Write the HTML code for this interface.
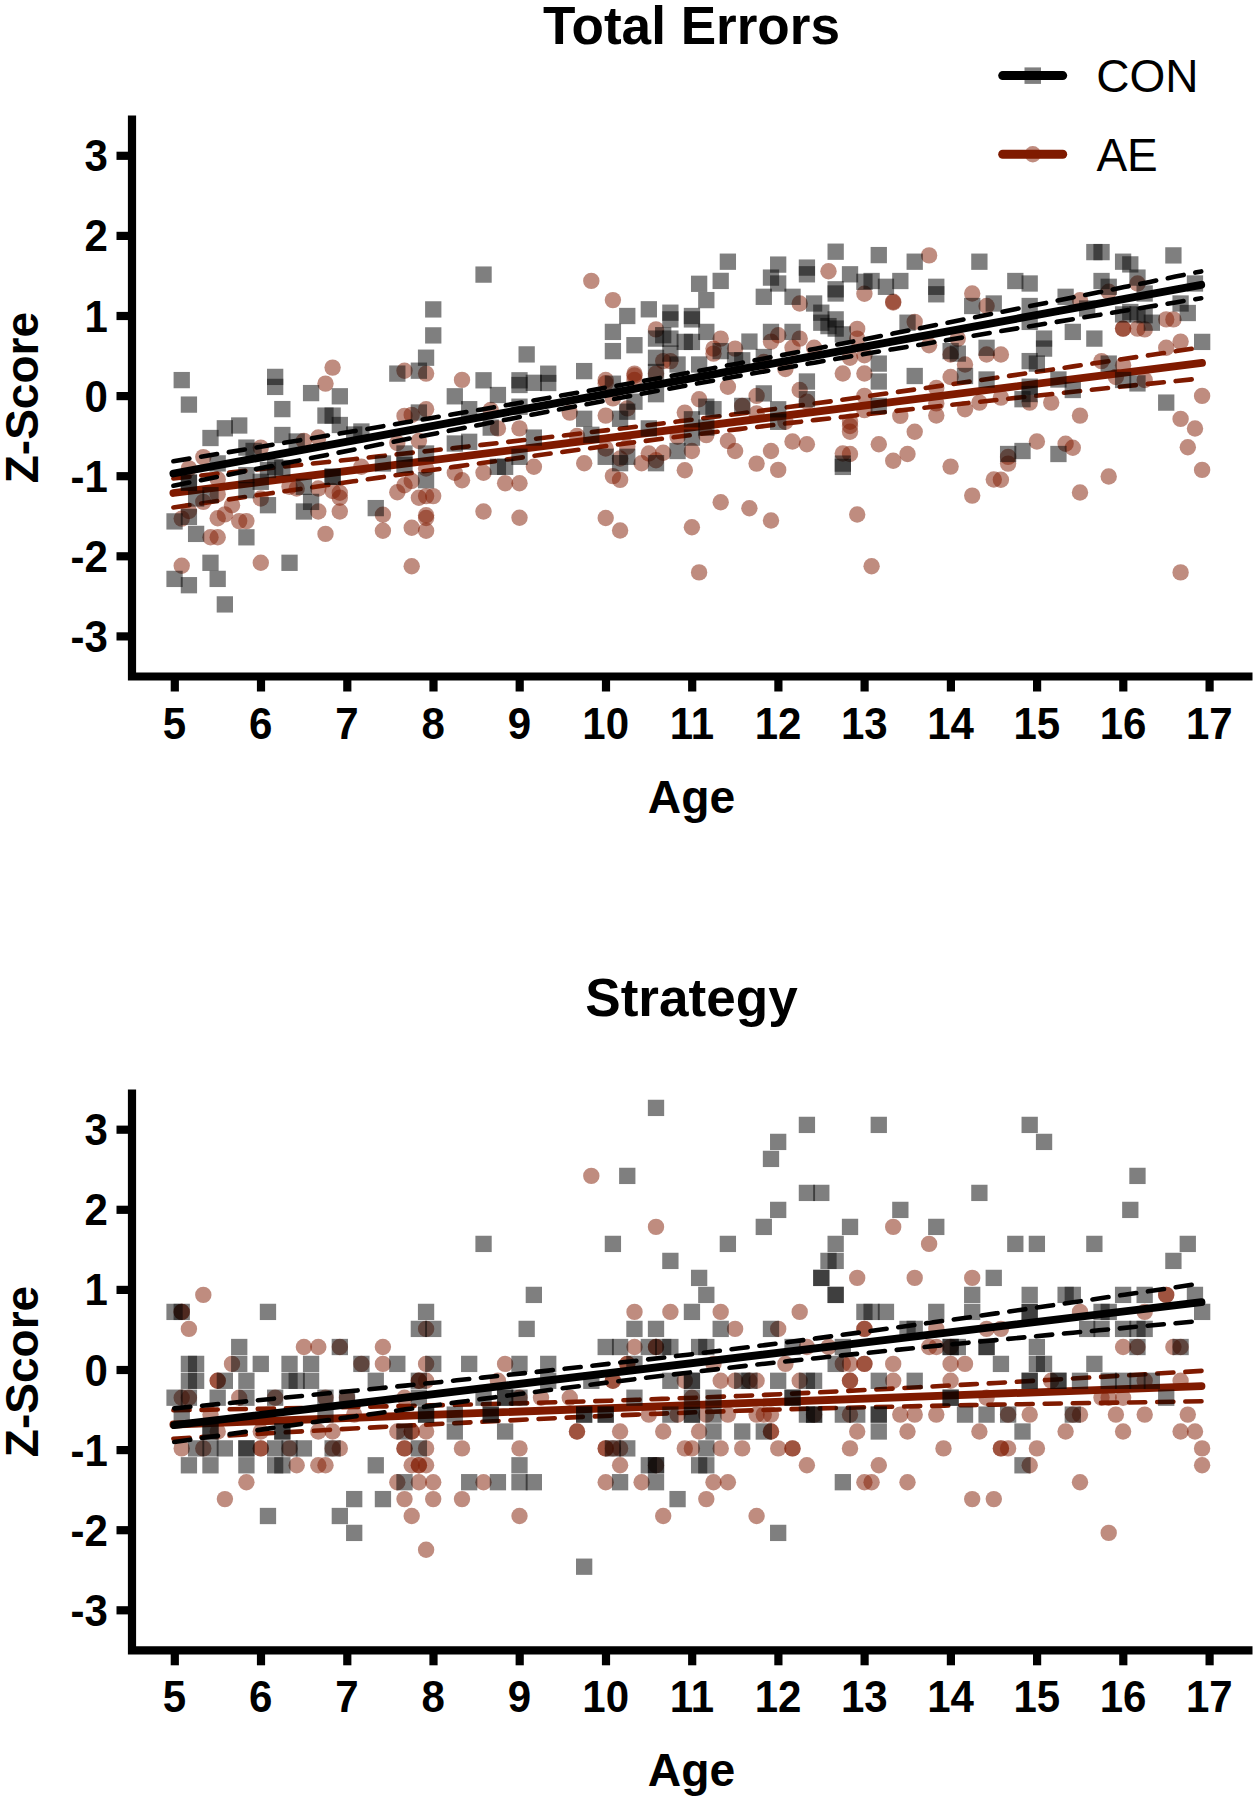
<!DOCTYPE html>
<html><head><meta charset="utf-8"><title>Figure</title>
<style>html,body{margin:0;padding:0;background:#fff}svg{display:block}text{font-family:"Liberation Sans",Arial,sans-serif;fill:#000}</style>
</head><body>
<svg width="1257" height="1800" viewBox="0 0 1257 1800">
<rect width="1257" height="1800" fill="#fff"/>
<text transform="translate(691.5 43.8) scale(1 1.02)" text-anchor="middle" font-size="53.1" font-weight="bold">Total Errors</text>
<g fill="#7f1a00" fill-opacity="0.5">
<circle cx="332.6" cy="367.6" r="8.2"/>
<circle cx="325.5" cy="383.6" r="8.2"/>
<circle cx="203.3" cy="457.1" r="8.2"/>
<circle cx="188.9" cy="468.4" r="8.2"/>
<circle cx="260.8" cy="447.6" r="8.2"/>
<circle cx="303.9" cy="440.9" r="8.2"/>
<circle cx="318.3" cy="437.5" r="8.2"/>
<circle cx="217.7" cy="479.3" r="8.2"/>
<circle cx="217.7" cy="494.3" r="8.2"/>
<circle cx="203.3" cy="501.9" r="8.2"/>
<circle cx="188.9" cy="511.0" r="8.2"/>
<circle cx="181.7" cy="518.6" r="8.2"/>
<circle cx="232.0" cy="505.2" r="8.2"/>
<circle cx="224.9" cy="514.4" r="8.2"/>
<circle cx="217.7" cy="518.2" r="8.2"/>
<circle cx="239.2" cy="521.1" r="8.2"/>
<circle cx="246.4" cy="521.1" r="8.2"/>
<circle cx="210.5" cy="537.3" r="8.2"/>
<circle cx="217.7" cy="537.3" r="8.2"/>
<circle cx="260.8" cy="498.5" r="8.2"/>
<circle cx="289.5" cy="486.8" r="8.2"/>
<circle cx="296.7" cy="488.5" r="8.2"/>
<circle cx="318.3" cy="488.5" r="8.2"/>
<circle cx="332.6" cy="491.0" r="8.2"/>
<circle cx="339.8" cy="492.7" r="8.2"/>
<circle cx="339.8" cy="497.7" r="8.2"/>
<circle cx="339.8" cy="511.5" r="8.2"/>
<circle cx="318.3" cy="511.5" r="8.2"/>
<circle cx="325.5" cy="533.9" r="8.2"/>
<circle cx="181.7" cy="565.7" r="8.2"/>
<circle cx="260.8" cy="562.8" r="8.2"/>
<circle cx="404.5" cy="370.7" r="8.2"/>
<circle cx="426.1" cy="373.6" r="8.2"/>
<circle cx="462.0" cy="379.9" r="8.2"/>
<circle cx="426.1" cy="409.2" r="8.2"/>
<circle cx="404.5" cy="415.9" r="8.2"/>
<circle cx="411.7" cy="414.9" r="8.2"/>
<circle cx="497.9" cy="428.4" r="8.2"/>
<circle cx="519.5" cy="428.4" r="8.2"/>
<circle cx="490.7" cy="410.0" r="8.2"/>
<circle cx="533.9" cy="466.8" r="8.2"/>
<circle cx="483.5" cy="472.7" r="8.2"/>
<circle cx="454.8" cy="472.7" r="8.2"/>
<circle cx="462.0" cy="480.2" r="8.2"/>
<circle cx="505.1" cy="483.2" r="8.2"/>
<circle cx="519.5" cy="483.2" r="8.2"/>
<circle cx="483.5" cy="511.5" r="8.2"/>
<circle cx="519.5" cy="517.8" r="8.2"/>
<circle cx="426.1" cy="468.5" r="8.2"/>
<circle cx="411.7" cy="481.0" r="8.2"/>
<circle cx="404.5" cy="485.2" r="8.2"/>
<circle cx="397.3" cy="492.2" r="8.2"/>
<circle cx="418.9" cy="497.8" r="8.2"/>
<circle cx="426.1" cy="496.1" r="8.2"/>
<circle cx="433.2" cy="496.1" r="8.2"/>
<circle cx="382.9" cy="514.8" r="8.2"/>
<circle cx="382.9" cy="530.7" r="8.2"/>
<circle cx="411.7" cy="527.8" r="8.2"/>
<circle cx="426.1" cy="515.3" r="8.2"/>
<circle cx="426.1" cy="518.0" r="8.2"/>
<circle cx="426.1" cy="530.7" r="8.2"/>
<circle cx="397.3" cy="443.0" r="8.2"/>
<circle cx="418.9" cy="441.0" r="8.2"/>
<circle cx="361.4" cy="466.8" r="8.2"/>
<circle cx="411.7" cy="566.2" r="8.2"/>
<circle cx="605.7" cy="518.0" r="8.2"/>
<circle cx="620.1" cy="530.5" r="8.2"/>
<circle cx="569.8" cy="412.6" r="8.2"/>
<circle cx="605.7" cy="415.6" r="8.2"/>
<circle cx="627.3" cy="408.4" r="8.2"/>
<circle cx="612.9" cy="398.4" r="8.2"/>
<circle cx="605.7" cy="383.3" r="8.2"/>
<circle cx="634.5" cy="380.0" r="8.2"/>
<circle cx="727.9" cy="386.7" r="8.2"/>
<circle cx="699.1" cy="399.2" r="8.2"/>
<circle cx="684.8" cy="412.6" r="8.2"/>
<circle cx="706.3" cy="435.1" r="8.2"/>
<circle cx="727.9" cy="441.0" r="8.2"/>
<circle cx="735.1" cy="451.0" r="8.2"/>
<circle cx="691.9" cy="451.0" r="8.2"/>
<circle cx="684.8" cy="470.2" r="8.2"/>
<circle cx="663.2" cy="452.7" r="8.2"/>
<circle cx="648.8" cy="453.5" r="8.2"/>
<circle cx="656.0" cy="460.2" r="8.2"/>
<circle cx="641.6" cy="463.2" r="8.2"/>
<circle cx="620.1" cy="458.5" r="8.2"/>
<circle cx="627.3" cy="446.8" r="8.2"/>
<circle cx="605.7" cy="448.5" r="8.2"/>
<circle cx="584.2" cy="463.2" r="8.2"/>
<circle cx="612.9" cy="476.1" r="8.2"/>
<circle cx="620.1" cy="479.9" r="8.2"/>
<circle cx="720.7" cy="502.3" r="8.2"/>
<circle cx="691.9" cy="527.3" r="8.2"/>
<circle cx="577.0" cy="436.0" r="8.2"/>
<circle cx="677.6" cy="436.8" r="8.2"/>
<circle cx="591.3" cy="280.9" r="8.2"/>
<circle cx="612.9" cy="300.1" r="8.2"/>
<circle cx="656.0" cy="329.4" r="8.2"/>
<circle cx="720.7" cy="338.6" r="8.2"/>
<circle cx="713.5" cy="348.6" r="8.2"/>
<circle cx="713.5" cy="353.6" r="8.2"/>
<circle cx="735.1" cy="348.6" r="8.2"/>
<circle cx="663.2" cy="361.1" r="8.2"/>
<circle cx="670.4" cy="361.1" r="8.2"/>
<circle cx="634.5" cy="373.6" r="8.2"/>
<circle cx="634.5" cy="375.5" r="8.2"/>
<circle cx="656.0" cy="373.6" r="8.2"/>
<circle cx="605.7" cy="380.0" r="8.2"/>
<circle cx="828.5" cy="271.3" r="8.2"/>
<circle cx="929.1" cy="255.4" r="8.2"/>
<circle cx="864.4" cy="293.8" r="8.2"/>
<circle cx="799.7" cy="303.5" r="8.2"/>
<circle cx="893.2" cy="301.8" r="8.2"/>
<circle cx="893.2" cy="302.5" r="8.2"/>
<circle cx="914.7" cy="321.9" r="8.2"/>
<circle cx="857.2" cy="328.9" r="8.2"/>
<circle cx="857.2" cy="338.6" r="8.2"/>
<circle cx="778.2" cy="335.2" r="8.2"/>
<circle cx="771.0" cy="341.6" r="8.2"/>
<circle cx="799.7" cy="338.6" r="8.2"/>
<circle cx="792.5" cy="347.8" r="8.2"/>
<circle cx="814.1" cy="347.8" r="8.2"/>
<circle cx="929.1" cy="345.3" r="8.2"/>
<circle cx="850.0" cy="357.8" r="8.2"/>
<circle cx="864.4" cy="355.3" r="8.2"/>
<circle cx="842.8" cy="373.5" r="8.2"/>
<circle cx="864.4" cy="373.5" r="8.2"/>
<circle cx="785.4" cy="369.0" r="8.2"/>
<circle cx="763.8" cy="362.0" r="8.2"/>
<circle cx="756.6" cy="395.9" r="8.2"/>
<circle cx="799.7" cy="390.0" r="8.2"/>
<circle cx="806.9" cy="401.7" r="8.2"/>
<circle cx="742.2" cy="405.9" r="8.2"/>
<circle cx="864.4" cy="395.9" r="8.2"/>
<circle cx="864.4" cy="410.1" r="8.2"/>
<circle cx="756.6" cy="413.4" r="8.2"/>
<circle cx="785.4" cy="421.8" r="8.2"/>
<circle cx="850.0" cy="421.8" r="8.2"/>
<circle cx="850.0" cy="426.0" r="8.2"/>
<circle cx="850.0" cy="431.8" r="8.2"/>
<circle cx="900.3" cy="415.9" r="8.2"/>
<circle cx="936.3" cy="415.5" r="8.2"/>
<circle cx="914.7" cy="431.8" r="8.2"/>
<circle cx="771.0" cy="451.0" r="8.2"/>
<circle cx="792.5" cy="441.5" r="8.2"/>
<circle cx="806.9" cy="444.3" r="8.2"/>
<circle cx="756.6" cy="463.6" r="8.2"/>
<circle cx="778.2" cy="469.9" r="8.2"/>
<circle cx="842.8" cy="453.5" r="8.2"/>
<circle cx="850.0" cy="454.0" r="8.2"/>
<circle cx="878.8" cy="444.3" r="8.2"/>
<circle cx="907.5" cy="454.0" r="8.2"/>
<circle cx="893.2" cy="460.7" r="8.2"/>
<circle cx="749.4" cy="508.2" r="8.2"/>
<circle cx="771.0" cy="520.5" r="8.2"/>
<circle cx="857.2" cy="514.5" r="8.2"/>
<circle cx="699.1" cy="572.4" r="8.2"/>
<circle cx="871.6" cy="566.2" r="8.2"/>
<circle cx="972.2" cy="293.5" r="8.2"/>
<circle cx="986.6" cy="306.0" r="8.2"/>
<circle cx="1080.0" cy="300.2" r="8.2"/>
<circle cx="1108.7" cy="291.8" r="8.2"/>
<circle cx="1137.5" cy="283.5" r="8.2"/>
<circle cx="1123.1" cy="328.6" r="8.2"/>
<circle cx="1137.5" cy="328.6" r="8.2"/>
<circle cx="957.8" cy="338.6" r="8.2"/>
<circle cx="950.6" cy="354.5" r="8.2"/>
<circle cx="986.6" cy="354.5" r="8.2"/>
<circle cx="1000.9" cy="354.5" r="8.2"/>
<circle cx="965.0" cy="364.5" r="8.2"/>
<circle cx="950.6" cy="377.0" r="8.2"/>
<circle cx="1101.5" cy="361.1" r="8.2"/>
<circle cx="1123.1" cy="365.3" r="8.2"/>
<circle cx="965.0" cy="409.3" r="8.2"/>
<circle cx="979.4" cy="402.6" r="8.2"/>
<circle cx="1000.9" cy="397.6" r="8.2"/>
<circle cx="1029.7" cy="402.6" r="8.2"/>
<circle cx="1051.2" cy="402.6" r="8.2"/>
<circle cx="1080.0" cy="415.6" r="8.2"/>
<circle cx="1036.9" cy="441.5" r="8.2"/>
<circle cx="1065.6" cy="443.7" r="8.2"/>
<circle cx="1072.8" cy="447.7" r="8.2"/>
<circle cx="1008.1" cy="456.9" r="8.2"/>
<circle cx="1008.1" cy="463.6" r="8.2"/>
<circle cx="950.6" cy="466.6" r="8.2"/>
<circle cx="993.8" cy="479.5" r="8.2"/>
<circle cx="1000.9" cy="479.7" r="8.2"/>
<circle cx="972.2" cy="495.6" r="8.2"/>
<circle cx="1080.0" cy="492.5" r="8.2"/>
<circle cx="1108.7" cy="476.5" r="8.2"/>
<circle cx="936.3" cy="388.0" r="8.2"/>
<circle cx="936.3" cy="403.4" r="8.2"/>
<circle cx="1115.9" cy="377.0" r="8.2"/>
<circle cx="1202.1" cy="469.9" r="8.2"/>
<circle cx="1180.6" cy="572.4" r="8.2"/>
<circle cx="1202.1" cy="395.9" r="8.2"/>
<circle cx="1180.6" cy="418.9" r="8.2"/>
<circle cx="1195.0" cy="428.5" r="8.2"/>
<circle cx="1187.8" cy="447.3" r="8.2"/>
<circle cx="1144.7" cy="380.0" r="8.2"/>
<circle cx="1144.7" cy="329.4" r="8.2"/>
<circle cx="1166.2" cy="319.4" r="8.2"/>
<circle cx="1173.4" cy="319.4" r="8.2"/>
<circle cx="1166.2" cy="347.8" r="8.2"/>
<circle cx="1180.6" cy="341.6" r="8.2"/>
<circle cx="1123.1" cy="328.6" r="8.2"/>
</g>
<path d="M173.4 478.5 L199.1 475.8 L224.8 473.0 L250.5 470.3 L276.3 467.5 L302.0 464.7 L327.7 462.0 L353.4 459.2 L379.1 456.3 L404.8 453.5 L430.5 450.7 L456.3 447.8 L482.0 444.9 L507.7 441.9 L533.4 439.0 L559.1 436.0 L584.8 432.9 L610.6 429.8 L636.3 426.7 L662.0 423.5 L687.7 420.3 L713.4 417.0 L739.1 413.7 L764.8 410.3 L790.6 406.8 L816.3 403.3 L842.0 399.8 L867.7 396.2 L893.4 392.5 L919.1 388.9 L944.8 385.2 L970.6 381.5 L996.3 377.7 L1022.0 374.0 L1047.7 370.2 L1073.4 366.4 L1099.1 362.6 L1124.9 358.8 L1150.6 355.0 L1176.3 351.1 L1191.7 348.8" stroke="#7f1a00" stroke-width="4.6" stroke-linecap="round" stroke-dasharray="16.2 11.868" fill="none"/>
<path d="M173.4 507.5 L199.1 503.7 L224.8 500.0 L250.5 496.2 L276.3 492.4 L302.0 488.7 L327.7 485.0 L353.4 481.3 L379.1 477.6 L404.8 473.9 L430.5 470.2 L456.3 466.6 L482.0 463.0 L507.7 459.4 L533.4 455.9 L559.1 452.4 L584.8 448.9 L610.6 445.5 L636.3 442.1 L662.0 438.8 L687.7 435.5 L713.4 432.3 L739.1 429.1 L764.8 426.0 L790.6 422.9 L816.3 419.9 L842.0 417.0 L867.7 414.1 L893.4 411.2 L919.1 408.3 L944.8 405.5 L970.6 402.7 L996.3 400.0 L1022.0 397.2 L1047.7 394.5 L1073.4 391.7 L1099.1 389.0 L1124.9 386.3 L1150.6 383.6 L1176.3 381.0 L1191.7 379.4" stroke="#7f1a00" stroke-width="4.6" stroke-linecap="round" stroke-dasharray="16.2 11.863" fill="none"/>
<path d="M173.4 493L1202 362.8" stroke="#7f1a00" stroke-width="7.8" stroke-linecap="round" fill="none"/>
<g fill="#000" fill-opacity="0.5">
<rect x="173.59" y="371.95" width="16.3" height="16.3"/>
<rect x="180.77" y="396.45" width="16.3" height="16.3"/>
<rect x="267.00" y="368.75" width="16.3" height="16.3"/>
<rect x="267.00" y="378.75" width="16.3" height="16.3"/>
<rect x="274.19" y="400.95" width="16.3" height="16.3"/>
<rect x="231.07" y="417.35" width="16.3" height="16.3"/>
<rect x="216.70" y="420.15" width="16.3" height="16.3"/>
<rect x="202.33" y="429.85" width="16.3" height="16.3"/>
<rect x="274.19" y="426.85" width="16.3" height="16.3"/>
<rect x="302.93" y="384.95" width="16.3" height="16.3"/>
<rect x="317.31" y="407.45" width="16.3" height="16.3"/>
<rect x="324.49" y="407.45" width="16.3" height="16.3"/>
<rect x="288.56" y="433.35" width="16.3" height="16.3"/>
<rect x="238.26" y="439.45" width="16.3" height="16.3"/>
<rect x="245.45" y="442.75" width="16.3" height="16.3"/>
<rect x="209.52" y="455.25" width="16.3" height="16.3"/>
<rect x="180.77" y="474.45" width="16.3" height="16.3"/>
<rect x="187.96" y="490.35" width="16.3" height="16.3"/>
<rect x="202.33" y="487.05" width="16.3" height="16.3"/>
<rect x="238.26" y="466.95" width="16.3" height="16.3"/>
<rect x="238.26" y="482.05" width="16.3" height="16.3"/>
<rect x="252.63" y="473.65" width="16.3" height="16.3"/>
<rect x="259.82" y="497.05" width="16.3" height="16.3"/>
<rect x="267.00" y="458.85" width="16.3" height="16.3"/>
<rect x="274.19" y="459.85" width="16.3" height="16.3"/>
<rect x="295.75" y="478.65" width="16.3" height="16.3"/>
<rect x="302.93" y="493.75" width="16.3" height="16.3"/>
<rect x="295.75" y="503.35" width="16.3" height="16.3"/>
<rect x="324.49" y="468.65" width="16.3" height="16.3"/>
<rect x="324.49" y="468.65" width="16.3" height="16.3"/>
<rect x="166.40" y="513.25" width="16.3" height="16.3"/>
<rect x="180.77" y="508.75" width="16.3" height="16.3"/>
<rect x="187.96" y="525.75" width="16.3" height="16.3"/>
<rect x="238.26" y="529.15" width="16.3" height="16.3"/>
<rect x="202.33" y="554.65" width="16.3" height="16.3"/>
<rect x="281.38" y="554.65" width="16.3" height="16.3"/>
<rect x="331.68" y="388.15" width="16.3" height="16.3"/>
<rect x="331.68" y="416.85" width="16.3" height="16.3"/>
<rect x="353.24" y="423.35" width="16.3" height="16.3"/>
<rect x="346.05" y="426.35" width="16.3" height="16.3"/>
<rect x="389.17" y="365.45" width="16.3" height="16.3"/>
<rect x="410.72" y="362.55" width="16.3" height="16.3"/>
<rect x="410.72" y="404.35" width="16.3" height="16.3"/>
<rect x="425.10" y="301.25" width="16.3" height="16.3"/>
<rect x="425.10" y="327.25" width="16.3" height="16.3"/>
<rect x="417.91" y="349.55" width="16.3" height="16.3"/>
<rect x="446.65" y="388.15" width="16.3" height="16.3"/>
<rect x="461.03" y="401.05" width="16.3" height="16.3"/>
<rect x="489.77" y="386.85" width="16.3" height="16.3"/>
<rect x="511.33" y="398.55" width="16.3" height="16.3"/>
<rect x="511.33" y="376.85" width="16.3" height="16.3"/>
<rect x="482.58" y="419.45" width="16.3" height="16.3"/>
<rect x="446.65" y="435.35" width="16.3" height="16.3"/>
<rect x="461.03" y="433.65" width="16.3" height="16.3"/>
<rect x="525.70" y="429.45" width="16.3" height="16.3"/>
<rect x="511.33" y="448.65" width="16.3" height="16.3"/>
<rect x="489.77" y="458.65" width="16.3" height="16.3"/>
<rect x="496.96" y="458.65" width="16.3" height="16.3"/>
<rect x="374.79" y="455.35" width="16.3" height="16.3"/>
<rect x="396.35" y="445.35" width="16.3" height="16.3"/>
<rect x="396.35" y="456.85" width="16.3" height="16.3"/>
<rect x="417.91" y="445.35" width="16.3" height="16.3"/>
<rect x="417.91" y="472.05" width="16.3" height="16.3"/>
<rect x="367.61" y="499.95" width="16.3" height="16.3"/>
<rect x="475.40" y="266.45" width="16.3" height="16.3"/>
<rect x="475.40" y="372.15" width="16.3" height="16.3"/>
<rect x="511.33" y="372.15" width="16.3" height="16.3"/>
<rect x="518.51" y="346.25" width="16.3" height="16.3"/>
<rect x="525.70" y="374.65" width="16.3" height="16.3"/>
<rect x="540.07" y="365.55" width="16.3" height="16.3"/>
<rect x="540.07" y="374.85" width="16.3" height="16.3"/>
<rect x="576.00" y="362.95" width="16.3" height="16.3"/>
<rect x="719.72" y="253.55" width="16.3" height="16.3"/>
<rect x="712.54" y="272.75" width="16.3" height="16.3"/>
<rect x="690.98" y="275.65" width="16.3" height="16.3"/>
<rect x="698.16" y="291.95" width="16.3" height="16.3"/>
<rect x="640.68" y="301.15" width="16.3" height="16.3"/>
<rect x="619.12" y="307.85" width="16.3" height="16.3"/>
<rect x="662.23" y="304.55" width="16.3" height="16.3"/>
<rect x="662.23" y="311.25" width="16.3" height="16.3"/>
<rect x="683.79" y="307.85" width="16.3" height="16.3"/>
<rect x="683.79" y="311.25" width="16.3" height="16.3"/>
<rect x="604.75" y="323.75" width="16.3" height="16.3"/>
<rect x="604.75" y="342.95" width="16.3" height="16.3"/>
<rect x="626.30" y="337.05" width="16.3" height="16.3"/>
<rect x="698.16" y="323.75" width="16.3" height="16.3"/>
<rect x="647.86" y="330.45" width="16.3" height="16.3"/>
<rect x="655.05" y="327.05" width="16.3" height="16.3"/>
<rect x="662.23" y="330.45" width="16.3" height="16.3"/>
<rect x="676.61" y="333.75" width="16.3" height="16.3"/>
<rect x="683.79" y="333.75" width="16.3" height="16.3"/>
<rect x="647.86" y="349.65" width="16.3" height="16.3"/>
<rect x="662.23" y="345.45" width="16.3" height="16.3"/>
<rect x="669.42" y="356.35" width="16.3" height="16.3"/>
<rect x="690.98" y="356.35" width="16.3" height="16.3"/>
<rect x="712.54" y="342.95" width="16.3" height="16.3"/>
<rect x="726.91" y="352.15" width="16.3" height="16.3"/>
<rect x="647.86" y="363.85" width="16.3" height="16.3"/>
<rect x="604.75" y="375.55" width="16.3" height="16.3"/>
<rect x="576.00" y="410.65" width="16.3" height="16.3"/>
<rect x="583.19" y="426.65" width="16.3" height="16.3"/>
<rect x="611.93" y="410.65" width="16.3" height="16.3"/>
<rect x="619.12" y="403.55" width="16.3" height="16.3"/>
<rect x="626.30" y="393.55" width="16.3" height="16.3"/>
<rect x="647.86" y="386.05" width="16.3" height="16.3"/>
<rect x="640.68" y="420.25" width="16.3" height="16.3"/>
<rect x="683.79" y="411.15" width="16.3" height="16.3"/>
<rect x="683.79" y="429.45" width="16.3" height="16.3"/>
<rect x="698.16" y="398.55" width="16.3" height="16.3"/>
<rect x="705.35" y="401.05" width="16.3" height="16.3"/>
<rect x="698.16" y="419.45" width="16.3" height="16.3"/>
<rect x="669.42" y="442.85" width="16.3" height="16.3"/>
<rect x="597.56" y="448.65" width="16.3" height="16.3"/>
<rect x="611.93" y="455.05" width="16.3" height="16.3"/>
<rect x="619.12" y="448.65" width="16.3" height="16.3"/>
<rect x="647.86" y="455.05" width="16.3" height="16.3"/>
<rect x="770.02" y="256.45" width="16.3" height="16.3"/>
<rect x="762.84" y="269.45" width="16.3" height="16.3"/>
<rect x="770.02" y="275.35" width="16.3" height="16.3"/>
<rect x="755.65" y="288.65" width="16.3" height="16.3"/>
<rect x="784.40" y="288.65" width="16.3" height="16.3"/>
<rect x="798.77" y="259.45" width="16.3" height="16.3"/>
<rect x="798.77" y="266.15" width="16.3" height="16.3"/>
<rect x="827.51" y="243.55" width="16.3" height="16.3"/>
<rect x="841.88" y="266.15" width="16.3" height="16.3"/>
<rect x="827.51" y="281.15" width="16.3" height="16.3"/>
<rect x="827.51" y="285.35" width="16.3" height="16.3"/>
<rect x="870.63" y="246.95" width="16.3" height="16.3"/>
<rect x="856.26" y="273.65" width="16.3" height="16.3"/>
<rect x="863.44" y="272.85" width="16.3" height="16.3"/>
<rect x="877.81" y="278.65" width="16.3" height="16.3"/>
<rect x="892.19" y="272.85" width="16.3" height="16.3"/>
<rect x="906.56" y="253.55" width="16.3" height="16.3"/>
<rect x="928.12" y="278.65" width="16.3" height="16.3"/>
<rect x="928.12" y="286.15" width="16.3" height="16.3"/>
<rect x="805.95" y="295.35" width="16.3" height="16.3"/>
<rect x="813.14" y="304.55" width="16.3" height="16.3"/>
<rect x="813.14" y="314.55" width="16.3" height="16.3"/>
<rect x="827.51" y="311.25" width="16.3" height="16.3"/>
<rect x="820.33" y="317.95" width="16.3" height="16.3"/>
<rect x="827.51" y="320.45" width="16.3" height="16.3"/>
<rect x="834.70" y="326.25" width="16.3" height="16.3"/>
<rect x="762.84" y="323.75" width="16.3" height="16.3"/>
<rect x="784.40" y="323.75" width="16.3" height="16.3"/>
<rect x="741.28" y="333.45" width="16.3" height="16.3"/>
<rect x="734.09" y="352.15" width="16.3" height="16.3"/>
<rect x="755.65" y="348.85" width="16.3" height="16.3"/>
<rect x="899.37" y="314.55" width="16.3" height="16.3"/>
<rect x="870.63" y="355.45" width="16.3" height="16.3"/>
<rect x="870.63" y="373.35" width="16.3" height="16.3"/>
<rect x="906.56" y="367.85" width="16.3" height="16.3"/>
<rect x="798.77" y="373.35" width="16.3" height="16.3"/>
<rect x="798.77" y="391.05" width="16.3" height="16.3"/>
<rect x="755.65" y="385.25" width="16.3" height="16.3"/>
<rect x="734.09" y="397.75" width="16.3" height="16.3"/>
<rect x="770.02" y="401.15" width="16.3" height="16.3"/>
<rect x="770.02" y="413.65" width="16.3" height="16.3"/>
<rect x="870.63" y="397.75" width="16.3" height="16.3"/>
<rect x="834.70" y="455.45" width="16.3" height="16.3"/>
<rect x="834.70" y="458.75" width="16.3" height="16.3"/>
<rect x="971.23" y="253.55" width="16.3" height="16.3"/>
<rect x="1007.16" y="272.85" width="16.3" height="16.3"/>
<rect x="1021.53" y="275.35" width="16.3" height="16.3"/>
<rect x="1086.21" y="243.95" width="16.3" height="16.3"/>
<rect x="1093.39" y="243.95" width="16.3" height="16.3"/>
<rect x="1114.95" y="253.55" width="16.3" height="16.3"/>
<rect x="1122.14" y="256.25" width="16.3" height="16.3"/>
<rect x="1093.39" y="272.85" width="16.3" height="16.3"/>
<rect x="1100.58" y="278.65" width="16.3" height="16.3"/>
<rect x="1129.32" y="269.45" width="16.3" height="16.3"/>
<rect x="1057.46" y="288.65" width="16.3" height="16.3"/>
<rect x="985.60" y="295.35" width="16.3" height="16.3"/>
<rect x="964.05" y="297.85" width="16.3" height="16.3"/>
<rect x="1021.53" y="297.85" width="16.3" height="16.3"/>
<rect x="1021.53" y="313.75" width="16.3" height="16.3"/>
<rect x="1079.02" y="300.35" width="16.3" height="16.3"/>
<rect x="1064.65" y="323.75" width="16.3" height="16.3"/>
<rect x="1086.21" y="330.45" width="16.3" height="16.3"/>
<rect x="1035.91" y="330.45" width="16.3" height="16.3"/>
<rect x="1035.91" y="340.45" width="16.3" height="16.3"/>
<rect x="1114.95" y="306.25" width="16.3" height="16.3"/>
<rect x="1122.14" y="303.85" width="16.3" height="16.3"/>
<rect x="1021.53" y="352.95" width="16.3" height="16.3"/>
<rect x="1028.72" y="355.45" width="16.3" height="16.3"/>
<rect x="942.49" y="342.95" width="16.3" height="16.3"/>
<rect x="949.67" y="345.45" width="16.3" height="16.3"/>
<rect x="978.42" y="339.65" width="16.3" height="16.3"/>
<rect x="956.86" y="367.85" width="16.3" height="16.3"/>
<rect x="978.42" y="371.35" width="16.3" height="16.3"/>
<rect x="1050.28" y="371.35" width="16.3" height="16.3"/>
<rect x="1100.58" y="355.45" width="16.3" height="16.3"/>
<rect x="1114.95" y="371.85" width="16.3" height="16.3"/>
<rect x="1129.32" y="375.25" width="16.3" height="16.3"/>
<rect x="1021.53" y="378.55" width="16.3" height="16.3"/>
<rect x="1014.35" y="391.05" width="16.3" height="16.3"/>
<rect x="1021.53" y="385.85" width="16.3" height="16.3"/>
<rect x="1064.65" y="381.85" width="16.3" height="16.3"/>
<rect x="999.98" y="445.85" width="16.3" height="16.3"/>
<rect x="1014.35" y="442.85" width="16.3" height="16.3"/>
<rect x="1050.28" y="445.85" width="16.3" height="16.3"/>
<rect x="1158.07" y="394.45" width="16.3" height="16.3"/>
<rect x="1165.25" y="247.25" width="16.3" height="16.3"/>
<rect x="1186.81" y="275.35" width="16.3" height="16.3"/>
<rect x="1172.44" y="295.35" width="16.3" height="16.3"/>
<rect x="1179.63" y="304.85" width="16.3" height="16.3"/>
<rect x="1136.51" y="285.35" width="16.3" height="16.3"/>
<rect x="1129.32" y="306.25" width="16.3" height="16.3"/>
<rect x="1136.51" y="307.05" width="16.3" height="16.3"/>
<rect x="1143.70" y="314.55" width="16.3" height="16.3"/>
<rect x="1194.00" y="333.75" width="16.3" height="16.3"/>
<rect x="166.40" y="570.75" width="16.3" height="16.3"/>
<rect x="180.77" y="577.05" width="16.3" height="16.3"/>
<rect x="209.52" y="570.75" width="16.3" height="16.3"/>
<rect x="216.70" y="596.25" width="16.3" height="16.3"/>
<rect x="180.77" y="474.45" width="16.3" height="16.3"/>
<rect x="259.82" y="461.85" width="16.3" height="16.3"/>
</g>
<path d="M173.4 461.3 L199.1 457.0 L224.8 452.8 L250.5 448.5 L276.2 444.2 L301.9 439.9 L327.6 435.6 L353.3 431.3 L379.0 426.9 L404.7 422.6 L430.4 418.2 L456.0 413.8 L481.7 409.4 L507.4 405.0 L533.1 400.5 L558.8 396.0 L584.5 391.5 L610.2 386.9 L635.9 382.3 L661.6 377.6 L687.3 372.9 L713.0 368.2 L738.7 363.4 L764.4 358.5 L790.1 353.6 L815.8 348.7 L841.5 343.7 L867.2 338.7 L892.9 333.6 L918.6 328.5 L944.2 323.4 L969.9 318.3 L995.6 313.1 L1021.3 307.9 L1047.0 302.7 L1072.7 297.5 L1098.4 292.3 L1124.1 287.1 L1149.8 281.9 L1175.5 276.6 L1201.2 271.4" stroke="#000" stroke-width="4.6" stroke-linecap="round" stroke-dasharray="16.2 11.889" fill="none"/>
<path d="M173.4 485.7 L199.1 480.5 L224.8 475.4 L250.5 470.2 L276.2 465.1 L301.9 459.9 L327.6 454.8 L353.3 449.7 L379.0 444.6 L404.7 439.5 L430.4 434.5 L456.0 429.4 L481.7 424.4 L507.4 419.4 L533.1 414.4 L558.8 409.5 L584.5 404.6 L610.2 399.7 L635.9 394.9 L661.6 390.1 L687.3 385.3 L713.0 380.7 L738.7 376.0 L764.4 371.4 L790.1 366.9 L815.8 362.4 L841.5 358.0 L867.2 353.6 L892.9 349.2 L918.6 344.9 L944.2 340.6 L969.9 336.3 L995.6 332.0 L1021.3 327.7 L1047.0 323.5 L1072.7 319.2 L1098.4 315.0 L1124.1 310.8 L1149.8 306.6 L1175.5 302.4 L1201.2 298.2" stroke="#000" stroke-width="4.6" stroke-linecap="round" stroke-dasharray="16.2 11.877" fill="none"/>
<path d="M173.4 473.5L1201.2 284.8" stroke="#000" stroke-width="7.8" stroke-linecap="round" fill="none"/>
<path d="M132 115.5V676.5H1252.5" fill="none" stroke="#000" stroke-width="8.2" stroke-linecap="butt" stroke-linejoin="miter"/>
<path d="M174.8 676.5V691.5" stroke="#000" stroke-width="8.2"/>
<text transform="translate(174.5 738.5) scale(1 1.05)" text-anchor="middle" font-size="42" font-weight="bold">5</text>
<path d="M261.0 676.5V691.5" stroke="#000" stroke-width="8.2"/>
<text transform="translate(260.7 738.5) scale(1 1.05)" text-anchor="middle" font-size="42" font-weight="bold">6</text>
<path d="M347.3 676.5V691.5" stroke="#000" stroke-width="8.2"/>
<text transform="translate(347.0 738.5) scale(1 1.05)" text-anchor="middle" font-size="42" font-weight="bold">7</text>
<path d="M433.5 676.5V691.5" stroke="#000" stroke-width="8.2"/>
<text transform="translate(433.2 738.5) scale(1 1.05)" text-anchor="middle" font-size="42" font-weight="bold">8</text>
<path d="M519.7 676.5V691.5" stroke="#000" stroke-width="8.2"/>
<text transform="translate(519.4 738.5) scale(1 1.05)" text-anchor="middle" font-size="42" font-weight="bold">9</text>
<path d="M606.0 676.5V691.5" stroke="#000" stroke-width="8.2"/>
<text transform="translate(605.7 738.5) scale(1 1.05)" text-anchor="middle" font-size="42" font-weight="bold">10</text>
<path d="M692.2 676.5V691.5" stroke="#000" stroke-width="8.2"/>
<text transform="translate(691.9 738.5) scale(1 1.05)" text-anchor="middle" font-size="42" font-weight="bold">11</text>
<path d="M778.4 676.5V691.5" stroke="#000" stroke-width="8.2"/>
<text transform="translate(778.1 738.5) scale(1 1.05)" text-anchor="middle" font-size="42" font-weight="bold">12</text>
<path d="M864.6 676.5V691.5" stroke="#000" stroke-width="8.2"/>
<text transform="translate(864.3 738.5) scale(1 1.05)" text-anchor="middle" font-size="42" font-weight="bold">13</text>
<path d="M950.9 676.5V691.5" stroke="#000" stroke-width="8.2"/>
<text transform="translate(950.6 738.5) scale(1 1.05)" text-anchor="middle" font-size="42" font-weight="bold">14</text>
<path d="M1037.1 676.5V691.5" stroke="#000" stroke-width="8.2"/>
<text transform="translate(1036.8 738.5) scale(1 1.05)" text-anchor="middle" font-size="42" font-weight="bold">15</text>
<path d="M1123.3 676.5V691.5" stroke="#000" stroke-width="8.2"/>
<text transform="translate(1123.0 738.5) scale(1 1.05)" text-anchor="middle" font-size="42" font-weight="bold">16</text>
<path d="M1209.6 676.5V691.5" stroke="#000" stroke-width="8.2"/>
<text transform="translate(1209.3 738.5) scale(1 1.05)" text-anchor="middle" font-size="42" font-weight="bold">17</text>
<path d="M116.5 636.4H132" stroke="#000" stroke-width="8.2"/>
<text transform="translate(107.8 651.9) scale(1 1.05)" text-anchor="end" font-size="42" font-weight="bold">-3</text>
<path d="M116.5 556.3H132" stroke="#000" stroke-width="8.2"/>
<text transform="translate(107.8 571.8) scale(1 1.05)" text-anchor="end" font-size="42" font-weight="bold">-2</text>
<path d="M116.5 476.2H132" stroke="#000" stroke-width="8.2"/>
<text transform="translate(107.8 491.8) scale(1 1.05)" text-anchor="end" font-size="42" font-weight="bold">-1</text>
<path d="M116.5 396.1H132" stroke="#000" stroke-width="8.2"/>
<text transform="translate(107.8 411.6) scale(1 1.05)" text-anchor="end" font-size="42" font-weight="bold">0</text>
<path d="M116.5 316.0H132" stroke="#000" stroke-width="8.2"/>
<text transform="translate(107.8 331.5) scale(1 1.05)" text-anchor="end" font-size="42" font-weight="bold">1</text>
<path d="M116.5 235.9H132" stroke="#000" stroke-width="8.2"/>
<text transform="translate(107.8 251.4) scale(1 1.05)" text-anchor="end" font-size="42" font-weight="bold">2</text>
<path d="M116.5 155.8H132" stroke="#000" stroke-width="8.2"/>
<text transform="translate(107.8 171.3) scale(1 1.05)" text-anchor="end" font-size="42" font-weight="bold">3</text>
<text x="691.5" y="813.3" text-anchor="middle" font-size="46.25" font-weight="bold">Age</text>
<text transform="translate(38 397.6) rotate(-90)" text-anchor="middle" font-size="46" font-weight="bold">Z-Score</text>
<text transform="translate(691.5 1016.3) scale(1 1.02)" text-anchor="middle" font-size="53.1" font-weight="bold">Strategy</text>
<g fill="#7f1a00" fill-opacity="0.5">
<circle cx="303.9" cy="1347.0" r="8.2"/>
<circle cx="318.3" cy="1347.0" r="8.2"/>
<circle cx="339.8" cy="1347.0" r="8.2"/>
<circle cx="232.0" cy="1363.9" r="8.2"/>
<circle cx="217.7" cy="1380.8" r="8.2"/>
<circle cx="217.7" cy="1380.8" r="8.2"/>
<circle cx="181.7" cy="1397.7" r="8.2"/>
<circle cx="188.9" cy="1397.7" r="8.2"/>
<circle cx="239.2" cy="1397.7" r="8.2"/>
<circle cx="275.2" cy="1397.7" r="8.2"/>
<circle cx="325.5" cy="1397.7" r="8.2"/>
<circle cx="347.0" cy="1397.7" r="8.2"/>
<circle cx="210.5" cy="1414.6" r="8.2"/>
<circle cx="268.0" cy="1414.6" r="8.2"/>
<circle cx="217.7" cy="1431.5" r="8.2"/>
<circle cx="260.8" cy="1431.5" r="8.2"/>
<circle cx="318.3" cy="1431.5" r="8.2"/>
<circle cx="332.6" cy="1431.5" r="8.2"/>
<circle cx="181.7" cy="1448.4" r="8.2"/>
<circle cx="203.3" cy="1448.4" r="8.2"/>
<circle cx="260.8" cy="1448.4" r="8.2"/>
<circle cx="260.8" cy="1448.4" r="8.2"/>
<circle cx="289.5" cy="1448.4" r="8.2"/>
<circle cx="332.6" cy="1448.4" r="8.2"/>
<circle cx="339.8" cy="1448.4" r="8.2"/>
<circle cx="296.7" cy="1465.3" r="8.2"/>
<circle cx="318.3" cy="1465.3" r="8.2"/>
<circle cx="325.5" cy="1465.3" r="8.2"/>
<circle cx="246.4" cy="1482.2" r="8.2"/>
<circle cx="224.9" cy="1499.1" r="8.2"/>
<circle cx="203.3" cy="1294.9" r="8.2"/>
<circle cx="181.7" cy="1311.9" r="8.2"/>
<circle cx="181.7" cy="1311.9" r="8.2"/>
<circle cx="188.9" cy="1328.9" r="8.2"/>
<circle cx="382.9" cy="1347.0" r="8.2"/>
<circle cx="361.4" cy="1363.9" r="8.2"/>
<circle cx="382.9" cy="1363.9" r="8.2"/>
<circle cx="426.1" cy="1363.9" r="8.2"/>
<circle cx="505.1" cy="1363.9" r="8.2"/>
<circle cx="418.9" cy="1380.8" r="8.2"/>
<circle cx="418.9" cy="1380.8" r="8.2"/>
<circle cx="426.1" cy="1380.8" r="8.2"/>
<circle cx="497.9" cy="1380.8" r="8.2"/>
<circle cx="404.5" cy="1397.7" r="8.2"/>
<circle cx="519.5" cy="1397.7" r="8.2"/>
<circle cx="541.0" cy="1397.7" r="8.2"/>
<circle cx="354.2" cy="1414.6" r="8.2"/>
<circle cx="397.3" cy="1431.5" r="8.2"/>
<circle cx="411.7" cy="1431.5" r="8.2"/>
<circle cx="411.7" cy="1431.5" r="8.2"/>
<circle cx="426.1" cy="1431.5" r="8.2"/>
<circle cx="404.5" cy="1448.4" r="8.2"/>
<circle cx="404.5" cy="1448.4" r="8.2"/>
<circle cx="426.1" cy="1448.4" r="8.2"/>
<circle cx="462.0" cy="1448.4" r="8.2"/>
<circle cx="519.5" cy="1448.4" r="8.2"/>
<circle cx="411.7" cy="1465.3" r="8.2"/>
<circle cx="418.9" cy="1465.3" r="8.2"/>
<circle cx="418.9" cy="1465.3" r="8.2"/>
<circle cx="426.1" cy="1465.3" r="8.2"/>
<circle cx="397.3" cy="1482.2" r="8.2"/>
<circle cx="418.9" cy="1482.2" r="8.2"/>
<circle cx="433.2" cy="1482.2" r="8.2"/>
<circle cx="483.5" cy="1482.2" r="8.2"/>
<circle cx="404.5" cy="1499.1" r="8.2"/>
<circle cx="433.2" cy="1499.1" r="8.2"/>
<circle cx="462.0" cy="1499.1" r="8.2"/>
<circle cx="411.7" cy="1516.0" r="8.2"/>
<circle cx="519.5" cy="1516.0" r="8.2"/>
<circle cx="426.1" cy="1549.8" r="8.2"/>
<circle cx="426.1" cy="1328.9" r="8.2"/>
<circle cx="634.5" cy="1347.0" r="8.2"/>
<circle cx="656.0" cy="1347.0" r="8.2"/>
<circle cx="656.0" cy="1347.0" r="8.2"/>
<circle cx="627.3" cy="1363.9" r="8.2"/>
<circle cx="627.3" cy="1363.9" r="8.2"/>
<circle cx="713.5" cy="1363.9" r="8.2"/>
<circle cx="612.9" cy="1380.8" r="8.2"/>
<circle cx="612.9" cy="1380.8" r="8.2"/>
<circle cx="684.8" cy="1380.8" r="8.2"/>
<circle cx="720.7" cy="1380.8" r="8.2"/>
<circle cx="735.1" cy="1380.8" r="8.2"/>
<circle cx="749.4" cy="1380.8" r="8.2"/>
<circle cx="756.6" cy="1380.8" r="8.2"/>
<circle cx="569.8" cy="1397.7" r="8.2"/>
<circle cx="691.9" cy="1397.7" r="8.2"/>
<circle cx="648.8" cy="1414.6" r="8.2"/>
<circle cx="677.6" cy="1414.6" r="8.2"/>
<circle cx="706.3" cy="1414.6" r="8.2"/>
<circle cx="727.9" cy="1414.6" r="8.2"/>
<circle cx="756.6" cy="1414.6" r="8.2"/>
<circle cx="763.8" cy="1414.6" r="8.2"/>
<circle cx="577.0" cy="1431.5" r="8.2"/>
<circle cx="577.0" cy="1431.5" r="8.2"/>
<circle cx="620.1" cy="1431.5" r="8.2"/>
<circle cx="663.2" cy="1431.5" r="8.2"/>
<circle cx="699.1" cy="1431.5" r="8.2"/>
<circle cx="771.0" cy="1431.5" r="8.2"/>
<circle cx="605.7" cy="1448.4" r="8.2"/>
<circle cx="605.7" cy="1448.4" r="8.2"/>
<circle cx="612.9" cy="1448.4" r="8.2"/>
<circle cx="620.1" cy="1448.4" r="8.2"/>
<circle cx="684.8" cy="1448.4" r="8.2"/>
<circle cx="691.9" cy="1448.4" r="8.2"/>
<circle cx="720.7" cy="1448.4" r="8.2"/>
<circle cx="742.2" cy="1448.4" r="8.2"/>
<circle cx="620.1" cy="1465.3" r="8.2"/>
<circle cx="656.0" cy="1465.3" r="8.2"/>
<circle cx="605.7" cy="1482.2" r="8.2"/>
<circle cx="641.6" cy="1482.2" r="8.2"/>
<circle cx="713.5" cy="1482.2" r="8.2"/>
<circle cx="727.9" cy="1482.2" r="8.2"/>
<circle cx="706.3" cy="1499.1" r="8.2"/>
<circle cx="663.2" cy="1516.0" r="8.2"/>
<circle cx="756.6" cy="1516.0" r="8.2"/>
<circle cx="656.0" cy="1226.9" r="8.2"/>
<circle cx="634.5" cy="1311.9" r="8.2"/>
<circle cx="670.4" cy="1311.9" r="8.2"/>
<circle cx="720.7" cy="1311.9" r="8.2"/>
<circle cx="735.1" cy="1328.9" r="8.2"/>
<circle cx="806.9" cy="1347.0" r="8.2"/>
<circle cx="828.5" cy="1347.0" r="8.2"/>
<circle cx="929.1" cy="1347.0" r="8.2"/>
<circle cx="936.3" cy="1347.0" r="8.2"/>
<circle cx="950.6" cy="1347.0" r="8.2"/>
<circle cx="785.4" cy="1363.9" r="8.2"/>
<circle cx="842.8" cy="1363.9" r="8.2"/>
<circle cx="850.0" cy="1363.9" r="8.2"/>
<circle cx="864.4" cy="1363.9" r="8.2"/>
<circle cx="864.4" cy="1363.9" r="8.2"/>
<circle cx="893.2" cy="1363.9" r="8.2"/>
<circle cx="950.6" cy="1363.9" r="8.2"/>
<circle cx="965.0" cy="1363.9" r="8.2"/>
<circle cx="799.7" cy="1380.8" r="8.2"/>
<circle cx="850.0" cy="1380.8" r="8.2"/>
<circle cx="850.0" cy="1380.8" r="8.2"/>
<circle cx="893.2" cy="1380.8" r="8.2"/>
<circle cx="950.6" cy="1380.8" r="8.2"/>
<circle cx="771.0" cy="1414.6" r="8.2"/>
<circle cx="814.1" cy="1414.6" r="8.2"/>
<circle cx="850.0" cy="1414.6" r="8.2"/>
<circle cx="900.3" cy="1414.6" r="8.2"/>
<circle cx="914.7" cy="1414.6" r="8.2"/>
<circle cx="936.3" cy="1414.6" r="8.2"/>
<circle cx="771.0" cy="1431.5" r="8.2"/>
<circle cx="857.2" cy="1431.5" r="8.2"/>
<circle cx="907.5" cy="1431.5" r="8.2"/>
<circle cx="979.4" cy="1431.5" r="8.2"/>
<circle cx="778.2" cy="1448.4" r="8.2"/>
<circle cx="792.5" cy="1448.4" r="8.2"/>
<circle cx="792.5" cy="1448.4" r="8.2"/>
<circle cx="850.0" cy="1448.4" r="8.2"/>
<circle cx="943.5" cy="1448.4" r="8.2"/>
<circle cx="806.9" cy="1465.3" r="8.2"/>
<circle cx="878.8" cy="1465.3" r="8.2"/>
<circle cx="864.4" cy="1482.2" r="8.2"/>
<circle cx="871.6" cy="1482.2" r="8.2"/>
<circle cx="907.5" cy="1482.2" r="8.2"/>
<circle cx="972.2" cy="1499.1" r="8.2"/>
<circle cx="893.2" cy="1226.9" r="8.2"/>
<circle cx="929.1" cy="1243.9" r="8.2"/>
<circle cx="857.2" cy="1277.9" r="8.2"/>
<circle cx="914.7" cy="1277.9" r="8.2"/>
<circle cx="972.2" cy="1277.9" r="8.2"/>
<circle cx="799.7" cy="1311.9" r="8.2"/>
<circle cx="778.2" cy="1328.9" r="8.2"/>
<circle cx="864.4" cy="1328.9" r="8.2"/>
<circle cx="864.4" cy="1328.9" r="8.2"/>
<circle cx="936.3" cy="1328.9" r="8.2"/>
<circle cx="1123.1" cy="1347.0" r="8.2"/>
<circle cx="1137.5" cy="1347.0" r="8.2"/>
<circle cx="1173.4" cy="1347.0" r="8.2"/>
<circle cx="1180.6" cy="1347.0" r="8.2"/>
<circle cx="1051.2" cy="1380.8" r="8.2"/>
<circle cx="1144.7" cy="1380.8" r="8.2"/>
<circle cx="1180.6" cy="1380.8" r="8.2"/>
<circle cx="986.6" cy="1397.7" r="8.2"/>
<circle cx="1101.5" cy="1397.7" r="8.2"/>
<circle cx="1108.7" cy="1397.7" r="8.2"/>
<circle cx="1123.1" cy="1397.7" r="8.2"/>
<circle cx="1008.1" cy="1414.6" r="8.2"/>
<circle cx="1029.7" cy="1414.6" r="8.2"/>
<circle cx="1072.8" cy="1414.6" r="8.2"/>
<circle cx="1080.0" cy="1414.6" r="8.2"/>
<circle cx="1115.9" cy="1414.6" r="8.2"/>
<circle cx="1144.7" cy="1414.6" r="8.2"/>
<circle cx="1187.8" cy="1414.6" r="8.2"/>
<circle cx="1065.6" cy="1431.5" r="8.2"/>
<circle cx="1123.1" cy="1431.5" r="8.2"/>
<circle cx="1180.6" cy="1431.5" r="8.2"/>
<circle cx="1195.0" cy="1431.5" r="8.2"/>
<circle cx="1000.9" cy="1448.4" r="8.2"/>
<circle cx="1000.9" cy="1448.4" r="8.2"/>
<circle cx="1008.1" cy="1448.4" r="8.2"/>
<circle cx="1036.9" cy="1448.4" r="8.2"/>
<circle cx="1202.1" cy="1448.4" r="8.2"/>
<circle cx="1029.7" cy="1465.3" r="8.2"/>
<circle cx="1202.1" cy="1465.3" r="8.2"/>
<circle cx="1080.0" cy="1482.2" r="8.2"/>
<circle cx="993.8" cy="1499.1" r="8.2"/>
<circle cx="1108.7" cy="1532.9" r="8.2"/>
<circle cx="1166.2" cy="1294.9" r="8.2"/>
<circle cx="1166.2" cy="1294.9" r="8.2"/>
<circle cx="1080.0" cy="1311.9" r="8.2"/>
<circle cx="1144.7" cy="1311.9" r="8.2"/>
<circle cx="986.6" cy="1328.9" r="8.2"/>
<circle cx="1000.9" cy="1328.9" r="8.2"/>
<circle cx="591.3" cy="1175.9" r="8.2"/>
</g>
<path d="M173.4 1410.3 L199.1 1409.9 L224.8 1409.4 L250.5 1409.0 L276.2 1408.5 L301.9 1408.0 L327.6 1407.5 L353.3 1407.0 L379.0 1406.5 L404.7 1406.0 L430.4 1405.4 L456.1 1404.8 L481.8 1404.2 L507.5 1403.6 L533.2 1402.9 L558.9 1402.2 L584.6 1401.4 L610.3 1400.7 L636.0 1399.8 L661.7 1398.9 L687.4 1398.0 L713.2 1397.0 L738.9 1396.0 L764.6 1394.9 L790.3 1393.7 L816.0 1392.5 L841.7 1391.2 L867.4 1389.9 L893.1 1388.6 L918.8 1387.2 L944.5 1385.8 L970.2 1384.4 L995.9 1383.0 L1021.6 1381.5 L1047.3 1380.0 L1073.0 1378.5 L1098.7 1377.0 L1124.4 1375.5 L1150.1 1374.0 L1175.8 1372.4 L1201.5 1370.9" stroke="#7f1a00" stroke-width="4.6" stroke-linecap="round" stroke-dasharray="16.2 11.933" fill="none"/>
<path d="M173.4 1438.7 L199.1 1437.2 L224.8 1435.8 L250.5 1434.3 L276.2 1432.8 L301.9 1431.4 L327.6 1430.0 L353.3 1428.5 L379.0 1427.1 L404.7 1425.8 L430.4 1424.4 L456.1 1423.1 L481.8 1421.8 L507.5 1420.5 L533.2 1419.2 L558.9 1418.0 L584.6 1416.8 L610.3 1415.7 L636.0 1414.6 L661.7 1413.6 L687.4 1412.6 L713.2 1411.7 L738.9 1410.8 L764.6 1410.0 L790.3 1409.2 L816.0 1408.5 L841.7 1407.9 L867.4 1407.2 L893.1 1406.7 L918.8 1406.1 L944.5 1405.6 L970.2 1405.1 L995.9 1404.6 L1021.6 1404.2 L1047.3 1403.7 L1073.0 1403.3 L1098.7 1402.9 L1124.4 1402.5 L1150.1 1402.1 L1175.8 1401.7 L1201.5 1401.3" stroke="#7f1a00" stroke-width="4.6" stroke-linecap="round" stroke-dasharray="16.2 11.931" fill="none"/>
<path d="M173.4 1424.5L1201.5 1386.1" stroke="#7f1a00" stroke-width="7.8" stroke-linecap="round" fill="none"/>
<g fill="#000" fill-opacity="0.5">
<rect x="231.07" y="1338.85" width="16.3" height="16.3"/>
<rect x="331.68" y="1338.85" width="16.3" height="16.3"/>
<rect x="180.77" y="1355.75" width="16.3" height="16.3"/>
<rect x="187.96" y="1355.75" width="16.3" height="16.3"/>
<rect x="231.07" y="1355.75" width="16.3" height="16.3"/>
<rect x="252.63" y="1355.75" width="16.3" height="16.3"/>
<rect x="281.38" y="1355.75" width="16.3" height="16.3"/>
<rect x="302.93" y="1355.75" width="16.3" height="16.3"/>
<rect x="180.77" y="1372.65" width="16.3" height="16.3"/>
<rect x="187.96" y="1372.65" width="16.3" height="16.3"/>
<rect x="216.70" y="1372.65" width="16.3" height="16.3"/>
<rect x="238.26" y="1372.65" width="16.3" height="16.3"/>
<rect x="281.38" y="1372.65" width="16.3" height="16.3"/>
<rect x="288.56" y="1372.65" width="16.3" height="16.3"/>
<rect x="302.93" y="1372.65" width="16.3" height="16.3"/>
<rect x="166.40" y="1389.55" width="16.3" height="16.3"/>
<rect x="180.77" y="1389.55" width="16.3" height="16.3"/>
<rect x="209.52" y="1389.55" width="16.3" height="16.3"/>
<rect x="238.26" y="1389.55" width="16.3" height="16.3"/>
<rect x="267.00" y="1389.55" width="16.3" height="16.3"/>
<rect x="317.31" y="1389.55" width="16.3" height="16.3"/>
<rect x="338.86" y="1389.55" width="16.3" height="16.3"/>
<rect x="173.59" y="1406.45" width="16.3" height="16.3"/>
<rect x="317.31" y="1406.45" width="16.3" height="16.3"/>
<rect x="202.33" y="1423.35" width="16.3" height="16.3"/>
<rect x="202.33" y="1423.35" width="16.3" height="16.3"/>
<rect x="274.19" y="1423.35" width="16.3" height="16.3"/>
<rect x="274.19" y="1423.35" width="16.3" height="16.3"/>
<rect x="187.96" y="1440.25" width="16.3" height="16.3"/>
<rect x="202.33" y="1440.25" width="16.3" height="16.3"/>
<rect x="216.70" y="1440.25" width="16.3" height="16.3"/>
<rect x="238.26" y="1440.25" width="16.3" height="16.3"/>
<rect x="238.26" y="1440.25" width="16.3" height="16.3"/>
<rect x="267.00" y="1440.25" width="16.3" height="16.3"/>
<rect x="281.38" y="1440.25" width="16.3" height="16.3"/>
<rect x="295.75" y="1440.25" width="16.3" height="16.3"/>
<rect x="324.49" y="1440.25" width="16.3" height="16.3"/>
<rect x="180.77" y="1457.15" width="16.3" height="16.3"/>
<rect x="202.33" y="1457.15" width="16.3" height="16.3"/>
<rect x="238.26" y="1457.15" width="16.3" height="16.3"/>
<rect x="267.00" y="1457.15" width="16.3" height="16.3"/>
<rect x="274.19" y="1457.15" width="16.3" height="16.3"/>
<rect x="346.05" y="1490.95" width="16.3" height="16.3"/>
<rect x="259.82" y="1507.85" width="16.3" height="16.3"/>
<rect x="331.68" y="1507.85" width="16.3" height="16.3"/>
<rect x="346.05" y="1524.75" width="16.3" height="16.3"/>
<rect x="166.40" y="1303.75" width="16.3" height="16.3"/>
<rect x="173.59" y="1303.75" width="16.3" height="16.3"/>
<rect x="259.82" y="1303.75" width="16.3" height="16.3"/>
<rect x="353.24" y="1355.75" width="16.3" height="16.3"/>
<rect x="389.17" y="1355.75" width="16.3" height="16.3"/>
<rect x="425.10" y="1355.75" width="16.3" height="16.3"/>
<rect x="461.03" y="1355.75" width="16.3" height="16.3"/>
<rect x="511.33" y="1355.75" width="16.3" height="16.3"/>
<rect x="540.07" y="1355.75" width="16.3" height="16.3"/>
<rect x="367.61" y="1372.65" width="16.3" height="16.3"/>
<rect x="410.72" y="1372.65" width="16.3" height="16.3"/>
<rect x="540.07" y="1372.65" width="16.3" height="16.3"/>
<rect x="410.72" y="1389.55" width="16.3" height="16.3"/>
<rect x="475.40" y="1389.55" width="16.3" height="16.3"/>
<rect x="496.96" y="1389.55" width="16.3" height="16.3"/>
<rect x="496.96" y="1389.55" width="16.3" height="16.3"/>
<rect x="511.33" y="1389.55" width="16.3" height="16.3"/>
<rect x="417.91" y="1406.45" width="16.3" height="16.3"/>
<rect x="417.91" y="1406.45" width="16.3" height="16.3"/>
<rect x="446.65" y="1406.45" width="16.3" height="16.3"/>
<rect x="482.58" y="1406.45" width="16.3" height="16.3"/>
<rect x="482.58" y="1406.45" width="16.3" height="16.3"/>
<rect x="396.35" y="1423.35" width="16.3" height="16.3"/>
<rect x="446.65" y="1423.35" width="16.3" height="16.3"/>
<rect x="496.96" y="1423.35" width="16.3" height="16.3"/>
<rect x="410.72" y="1440.25" width="16.3" height="16.3"/>
<rect x="367.61" y="1457.15" width="16.3" height="16.3"/>
<rect x="511.33" y="1457.15" width="16.3" height="16.3"/>
<rect x="396.35" y="1474.05" width="16.3" height="16.3"/>
<rect x="461.03" y="1474.05" width="16.3" height="16.3"/>
<rect x="489.77" y="1474.05" width="16.3" height="16.3"/>
<rect x="511.33" y="1474.05" width="16.3" height="16.3"/>
<rect x="525.70" y="1474.05" width="16.3" height="16.3"/>
<rect x="374.79" y="1490.95" width="16.3" height="16.3"/>
<rect x="475.40" y="1235.75" width="16.3" height="16.3"/>
<rect x="417.91" y="1303.75" width="16.3" height="16.3"/>
<rect x="410.72" y="1320.75" width="16.3" height="16.3"/>
<rect x="425.10" y="1320.75" width="16.3" height="16.3"/>
<rect x="525.70" y="1286.75" width="16.3" height="16.3"/>
<rect x="518.51" y="1320.75" width="16.3" height="16.3"/>
<rect x="597.56" y="1338.85" width="16.3" height="16.3"/>
<rect x="611.93" y="1338.85" width="16.3" height="16.3"/>
<rect x="640.68" y="1338.85" width="16.3" height="16.3"/>
<rect x="655.05" y="1338.85" width="16.3" height="16.3"/>
<rect x="662.23" y="1338.85" width="16.3" height="16.3"/>
<rect x="690.98" y="1338.85" width="16.3" height="16.3"/>
<rect x="698.16" y="1338.85" width="16.3" height="16.3"/>
<rect x="626.30" y="1355.75" width="16.3" height="16.3"/>
<rect x="583.19" y="1372.65" width="16.3" height="16.3"/>
<rect x="662.23" y="1372.65" width="16.3" height="16.3"/>
<rect x="683.79" y="1372.65" width="16.3" height="16.3"/>
<rect x="683.79" y="1372.65" width="16.3" height="16.3"/>
<rect x="734.09" y="1372.65" width="16.3" height="16.3"/>
<rect x="741.28" y="1372.65" width="16.3" height="16.3"/>
<rect x="626.30" y="1389.55" width="16.3" height="16.3"/>
<rect x="683.79" y="1389.55" width="16.3" height="16.3"/>
<rect x="705.35" y="1389.55" width="16.3" height="16.3"/>
<rect x="576.00" y="1406.45" width="16.3" height="16.3"/>
<rect x="576.00" y="1406.45" width="16.3" height="16.3"/>
<rect x="597.56" y="1406.45" width="16.3" height="16.3"/>
<rect x="597.56" y="1406.45" width="16.3" height="16.3"/>
<rect x="662.23" y="1406.45" width="16.3" height="16.3"/>
<rect x="683.79" y="1406.45" width="16.3" height="16.3"/>
<rect x="683.79" y="1406.45" width="16.3" height="16.3"/>
<rect x="705.35" y="1406.45" width="16.3" height="16.3"/>
<rect x="705.35" y="1423.35" width="16.3" height="16.3"/>
<rect x="734.09" y="1423.35" width="16.3" height="16.3"/>
<rect x="755.65" y="1423.35" width="16.3" height="16.3"/>
<rect x="604.75" y="1440.25" width="16.3" height="16.3"/>
<rect x="619.12" y="1440.25" width="16.3" height="16.3"/>
<rect x="698.16" y="1440.25" width="16.3" height="16.3"/>
<rect x="640.68" y="1457.15" width="16.3" height="16.3"/>
<rect x="647.86" y="1457.15" width="16.3" height="16.3"/>
<rect x="647.86" y="1457.15" width="16.3" height="16.3"/>
<rect x="690.98" y="1457.15" width="16.3" height="16.3"/>
<rect x="698.16" y="1457.15" width="16.3" height="16.3"/>
<rect x="611.93" y="1474.05" width="16.3" height="16.3"/>
<rect x="647.86" y="1474.05" width="16.3" height="16.3"/>
<rect x="669.42" y="1490.95" width="16.3" height="16.3"/>
<rect x="576.00" y="1558.55" width="16.3" height="16.3"/>
<rect x="604.75" y="1235.75" width="16.3" height="16.3"/>
<rect x="662.23" y="1252.75" width="16.3" height="16.3"/>
<rect x="719.72" y="1235.75" width="16.3" height="16.3"/>
<rect x="755.65" y="1218.75" width="16.3" height="16.3"/>
<rect x="690.98" y="1269.75" width="16.3" height="16.3"/>
<rect x="698.16" y="1286.75" width="16.3" height="16.3"/>
<rect x="683.79" y="1303.75" width="16.3" height="16.3"/>
<rect x="626.30" y="1320.75" width="16.3" height="16.3"/>
<rect x="647.86" y="1320.75" width="16.3" height="16.3"/>
<rect x="712.54" y="1320.75" width="16.3" height="16.3"/>
<rect x="762.84" y="1320.75" width="16.3" height="16.3"/>
<rect x="784.40" y="1338.85" width="16.3" height="16.3"/>
<rect x="834.70" y="1338.85" width="16.3" height="16.3"/>
<rect x="942.49" y="1338.85" width="16.3" height="16.3"/>
<rect x="942.49" y="1338.85" width="16.3" height="16.3"/>
<rect x="949.67" y="1338.85" width="16.3" height="16.3"/>
<rect x="827.51" y="1355.75" width="16.3" height="16.3"/>
<rect x="770.02" y="1372.65" width="16.3" height="16.3"/>
<rect x="798.77" y="1372.65" width="16.3" height="16.3"/>
<rect x="805.95" y="1372.65" width="16.3" height="16.3"/>
<rect x="870.63" y="1372.65" width="16.3" height="16.3"/>
<rect x="906.56" y="1372.65" width="16.3" height="16.3"/>
<rect x="784.40" y="1389.55" width="16.3" height="16.3"/>
<rect x="784.40" y="1389.55" width="16.3" height="16.3"/>
<rect x="942.49" y="1389.55" width="16.3" height="16.3"/>
<rect x="942.49" y="1389.55" width="16.3" height="16.3"/>
<rect x="798.77" y="1406.45" width="16.3" height="16.3"/>
<rect x="805.95" y="1406.45" width="16.3" height="16.3"/>
<rect x="805.95" y="1406.45" width="16.3" height="16.3"/>
<rect x="834.70" y="1406.45" width="16.3" height="16.3"/>
<rect x="849.07" y="1406.45" width="16.3" height="16.3"/>
<rect x="870.63" y="1406.45" width="16.3" height="16.3"/>
<rect x="870.63" y="1406.45" width="16.3" height="16.3"/>
<rect x="956.86" y="1406.45" width="16.3" height="16.3"/>
<rect x="870.63" y="1423.35" width="16.3" height="16.3"/>
<rect x="834.70" y="1474.05" width="16.3" height="16.3"/>
<rect x="770.02" y="1524.75" width="16.3" height="16.3"/>
<rect x="798.77" y="1184.75" width="16.3" height="16.3"/>
<rect x="813.14" y="1184.75" width="16.3" height="16.3"/>
<rect x="971.23" y="1184.75" width="16.3" height="16.3"/>
<rect x="770.02" y="1201.75" width="16.3" height="16.3"/>
<rect x="892.19" y="1201.75" width="16.3" height="16.3"/>
<rect x="841.88" y="1218.75" width="16.3" height="16.3"/>
<rect x="928.12" y="1218.75" width="16.3" height="16.3"/>
<rect x="827.51" y="1235.75" width="16.3" height="16.3"/>
<rect x="820.33" y="1252.75" width="16.3" height="16.3"/>
<rect x="827.51" y="1252.75" width="16.3" height="16.3"/>
<rect x="813.14" y="1269.75" width="16.3" height="16.3"/>
<rect x="813.14" y="1269.75" width="16.3" height="16.3"/>
<rect x="827.51" y="1286.75" width="16.3" height="16.3"/>
<rect x="827.51" y="1286.75" width="16.3" height="16.3"/>
<rect x="964.05" y="1286.75" width="16.3" height="16.3"/>
<rect x="856.26" y="1303.75" width="16.3" height="16.3"/>
<rect x="863.44" y="1303.75" width="16.3" height="16.3"/>
<rect x="877.81" y="1303.75" width="16.3" height="16.3"/>
<rect x="928.12" y="1303.75" width="16.3" height="16.3"/>
<rect x="964.05" y="1303.75" width="16.3" height="16.3"/>
<rect x="899.37" y="1320.75" width="16.3" height="16.3"/>
<rect x="906.56" y="1320.75" width="16.3" height="16.3"/>
<rect x="978.42" y="1338.85" width="16.3" height="16.3"/>
<rect x="978.42" y="1338.85" width="16.3" height="16.3"/>
<rect x="1028.72" y="1338.85" width="16.3" height="16.3"/>
<rect x="1129.32" y="1338.85" width="16.3" height="16.3"/>
<rect x="1172.44" y="1338.85" width="16.3" height="16.3"/>
<rect x="992.79" y="1355.75" width="16.3" height="16.3"/>
<rect x="1028.72" y="1355.75" width="16.3" height="16.3"/>
<rect x="1035.91" y="1355.75" width="16.3" height="16.3"/>
<rect x="1086.21" y="1355.75" width="16.3" height="16.3"/>
<rect x="1021.53" y="1372.65" width="16.3" height="16.3"/>
<rect x="1021.53" y="1372.65" width="16.3" height="16.3"/>
<rect x="1050.28" y="1372.65" width="16.3" height="16.3"/>
<rect x="1050.28" y="1372.65" width="16.3" height="16.3"/>
<rect x="1071.84" y="1372.65" width="16.3" height="16.3"/>
<rect x="1100.58" y="1372.65" width="16.3" height="16.3"/>
<rect x="1114.95" y="1372.65" width="16.3" height="16.3"/>
<rect x="1129.32" y="1372.65" width="16.3" height="16.3"/>
<rect x="1143.70" y="1372.65" width="16.3" height="16.3"/>
<rect x="1158.07" y="1389.55" width="16.3" height="16.3"/>
<rect x="978.42" y="1406.45" width="16.3" height="16.3"/>
<rect x="999.98" y="1406.45" width="16.3" height="16.3"/>
<rect x="1064.65" y="1406.45" width="16.3" height="16.3"/>
<rect x="1014.35" y="1423.35" width="16.3" height="16.3"/>
<rect x="1014.35" y="1457.15" width="16.3" height="16.3"/>
<rect x="1122.14" y="1201.75" width="16.3" height="16.3"/>
<rect x="1007.16" y="1235.75" width="16.3" height="16.3"/>
<rect x="1028.72" y="1235.75" width="16.3" height="16.3"/>
<rect x="1086.21" y="1235.75" width="16.3" height="16.3"/>
<rect x="1179.63" y="1235.75" width="16.3" height="16.3"/>
<rect x="1165.25" y="1252.75" width="16.3" height="16.3"/>
<rect x="985.60" y="1269.75" width="16.3" height="16.3"/>
<rect x="1021.53" y="1286.75" width="16.3" height="16.3"/>
<rect x="1057.46" y="1286.75" width="16.3" height="16.3"/>
<rect x="1064.65" y="1286.75" width="16.3" height="16.3"/>
<rect x="1114.95" y="1286.75" width="16.3" height="16.3"/>
<rect x="1136.51" y="1286.75" width="16.3" height="16.3"/>
<rect x="1021.53" y="1303.75" width="16.3" height="16.3"/>
<rect x="1021.53" y="1303.75" width="16.3" height="16.3"/>
<rect x="1093.39" y="1303.75" width="16.3" height="16.3"/>
<rect x="1100.58" y="1303.75" width="16.3" height="16.3"/>
<rect x="1079.02" y="1320.75" width="16.3" height="16.3"/>
<rect x="1093.39" y="1320.75" width="16.3" height="16.3"/>
<rect x="1114.95" y="1320.75" width="16.3" height="16.3"/>
<rect x="1129.32" y="1320.75" width="16.3" height="16.3"/>
<rect x="1136.51" y="1320.75" width="16.3" height="16.3"/>
<rect x="1186.81" y="1286.75" width="16.3" height="16.3"/>
<rect x="1194.00" y="1303.75" width="16.3" height="16.3"/>
<rect x="647.86" y="1099.75" width="16.3" height="16.3"/>
<rect x="798.77" y="1116.75" width="16.3" height="16.3"/>
<rect x="770.02" y="1133.75" width="16.3" height="16.3"/>
<rect x="762.84" y="1150.75" width="16.3" height="16.3"/>
<rect x="619.12" y="1167.75" width="16.3" height="16.3"/>
<rect x="870.63" y="1116.75" width="16.3" height="16.3"/>
<rect x="1021.53" y="1116.75" width="16.3" height="16.3"/>
<rect x="1035.91" y="1133.75" width="16.3" height="16.3"/>
<rect x="1129.32" y="1167.75" width="16.3" height="16.3"/>
</g>
<path d="M174.2 1408.4 L199.9 1405.9 L225.6 1403.4 L251.2 1400.9 L276.9 1398.4 L302.6 1395.9 L328.3 1393.3 L354.0 1390.8 L379.7 1388.2 L405.3 1385.6 L431.0 1383.0 L456.7 1380.3 L482.4 1377.6 L508.1 1374.9 L533.8 1372.2 L559.4 1369.4 L585.1 1366.5 L610.8 1363.6 L636.5 1360.7 L662.2 1357.7 L687.8 1354.7 L713.5 1351.5 L739.2 1348.3 L764.9 1345.1 L790.6 1341.8 L816.3 1338.4 L841.9 1334.9 L867.6 1331.4 L893.3 1327.9 L919.0 1324.3 L944.7 1320.7 L970.4 1317.1 L996.0 1313.4 L1021.7 1309.7 L1047.4 1306.0 L1073.1 1302.3 L1098.8 1298.5 L1124.5 1294.7 L1150.1 1291.0 L1175.8 1287.2 L1191.7 1284.8" stroke="#000" stroke-width="4.6" stroke-linecap="round" stroke-dasharray="16.2 11.826" fill="none"/>
<path d="M174.2 1442.0 L199.9 1438.3 L225.6 1434.7 L251.2 1431.0 L276.9 1427.4 L302.6 1423.7 L328.3 1420.1 L354.0 1416.5 L379.7 1413.0 L405.3 1409.4 L431.0 1405.9 L456.7 1402.4 L482.4 1398.9 L508.1 1395.5 L533.8 1392.1 L559.4 1388.7 L585.1 1385.4 L610.8 1382.1 L636.5 1378.9 L662.2 1375.8 L687.8 1372.7 L713.5 1369.6 L739.2 1366.6 L764.9 1363.7 L790.6 1360.9 L816.3 1358.2 L841.9 1355.4 L867.6 1352.8 L893.3 1350.2 L919.0 1347.6 L944.7 1345.0 L970.4 1342.5 L996.0 1340.1 L1021.7 1337.6 L1047.4 1335.1 L1073.1 1332.7 L1098.8 1330.3 L1124.5 1327.9 L1150.1 1325.5 L1175.8 1323.2 L1191.7 1321.7" stroke="#000" stroke-width="4.6" stroke-linecap="round" stroke-dasharray="16.2 11.815" fill="none"/>
<path d="M174.2 1425.2L1201.5 1302.1" stroke="#000" stroke-width="7.8" stroke-linecap="round" fill="none"/>
<path d="M132 1089.4V1650.3H1252.5" fill="none" stroke="#000" stroke-width="8.2" stroke-linecap="butt" stroke-linejoin="miter"/>
<path d="M174.8 1650.3V1665.3" stroke="#000" stroke-width="8.2"/>
<text transform="translate(174.5 1712.3) scale(1 1.05)" text-anchor="middle" font-size="42" font-weight="bold">5</text>
<path d="M261.0 1650.3V1665.3" stroke="#000" stroke-width="8.2"/>
<text transform="translate(260.7 1712.3) scale(1 1.05)" text-anchor="middle" font-size="42" font-weight="bold">6</text>
<path d="M347.3 1650.3V1665.3" stroke="#000" stroke-width="8.2"/>
<text transform="translate(347.0 1712.3) scale(1 1.05)" text-anchor="middle" font-size="42" font-weight="bold">7</text>
<path d="M433.5 1650.3V1665.3" stroke="#000" stroke-width="8.2"/>
<text transform="translate(433.2 1712.3) scale(1 1.05)" text-anchor="middle" font-size="42" font-weight="bold">8</text>
<path d="M519.7 1650.3V1665.3" stroke="#000" stroke-width="8.2"/>
<text transform="translate(519.4 1712.3) scale(1 1.05)" text-anchor="middle" font-size="42" font-weight="bold">9</text>
<path d="M606.0 1650.3V1665.3" stroke="#000" stroke-width="8.2"/>
<text transform="translate(605.7 1712.3) scale(1 1.05)" text-anchor="middle" font-size="42" font-weight="bold">10</text>
<path d="M692.2 1650.3V1665.3" stroke="#000" stroke-width="8.2"/>
<text transform="translate(691.9 1712.3) scale(1 1.05)" text-anchor="middle" font-size="42" font-weight="bold">11</text>
<path d="M778.4 1650.3V1665.3" stroke="#000" stroke-width="8.2"/>
<text transform="translate(778.1 1712.3) scale(1 1.05)" text-anchor="middle" font-size="42" font-weight="bold">12</text>
<path d="M864.6 1650.3V1665.3" stroke="#000" stroke-width="8.2"/>
<text transform="translate(864.3 1712.3) scale(1 1.05)" text-anchor="middle" font-size="42" font-weight="bold">13</text>
<path d="M950.9 1650.3V1665.3" stroke="#000" stroke-width="8.2"/>
<text transform="translate(950.6 1712.3) scale(1 1.05)" text-anchor="middle" font-size="42" font-weight="bold">14</text>
<path d="M1037.1 1650.3V1665.3" stroke="#000" stroke-width="8.2"/>
<text transform="translate(1036.8 1712.3) scale(1 1.05)" text-anchor="middle" font-size="42" font-weight="bold">15</text>
<path d="M1123.3 1650.3V1665.3" stroke="#000" stroke-width="8.2"/>
<text transform="translate(1123.0 1712.3) scale(1 1.05)" text-anchor="middle" font-size="42" font-weight="bold">16</text>
<path d="M1209.6 1650.3V1665.3" stroke="#000" stroke-width="8.2"/>
<text transform="translate(1209.3 1712.3) scale(1 1.05)" text-anchor="middle" font-size="42" font-weight="bold">17</text>
<path d="M116.5 1610.3H132" stroke="#000" stroke-width="8.2"/>
<text transform="translate(107.8 1625.8) scale(1 1.05)" text-anchor="end" font-size="42" font-weight="bold">-3</text>
<path d="M116.5 1530.2H132" stroke="#000" stroke-width="8.2"/>
<text transform="translate(107.8 1545.7) scale(1 1.05)" text-anchor="end" font-size="42" font-weight="bold">-2</text>
<path d="M116.5 1450.1H132" stroke="#000" stroke-width="8.2"/>
<text transform="translate(107.8 1465.6) scale(1 1.05)" text-anchor="end" font-size="42" font-weight="bold">-1</text>
<path d="M116.5 1370.0H132" stroke="#000" stroke-width="8.2"/>
<text transform="translate(107.8 1385.5) scale(1 1.05)" text-anchor="end" font-size="42" font-weight="bold">0</text>
<path d="M116.5 1289.9H132" stroke="#000" stroke-width="8.2"/>
<text transform="translate(107.8 1305.4) scale(1 1.05)" text-anchor="end" font-size="42" font-weight="bold">1</text>
<path d="M116.5 1209.8H132" stroke="#000" stroke-width="8.2"/>
<text transform="translate(107.8 1225.3) scale(1 1.05)" text-anchor="end" font-size="42" font-weight="bold">2</text>
<path d="M116.5 1129.7H132" stroke="#000" stroke-width="8.2"/>
<text transform="translate(107.8 1145.2) scale(1 1.05)" text-anchor="end" font-size="42" font-weight="bold">3</text>
<text x="691.5" y="1786.1" text-anchor="middle" font-size="46.25" font-weight="bold">Age</text>
<text transform="translate(38 1371.5) rotate(-90)" text-anchor="middle" font-size="46" font-weight="bold">Z-Score</text>
<path d="M1002.7 75.6H1062.7" stroke="#000" stroke-width="9" stroke-linecap="round"/>
<rect x="1024.5" y="67.4" width="16.5" height="16.5" fill="#000" fill-opacity="0.5"/>
<path d="M1002.7 154.3H1062.7" stroke="#7f1a00" stroke-width="9" stroke-linecap="round"/>
<circle cx="1032.8" cy="154.2" r="8.2" fill="#7f1a00" fill-opacity="0.5"/>
<text x="1096.2" y="91.5" font-size="46">CON</text>
<text x="1096.4" y="171" font-size="46">AE</text>
</svg>
</body></html>
